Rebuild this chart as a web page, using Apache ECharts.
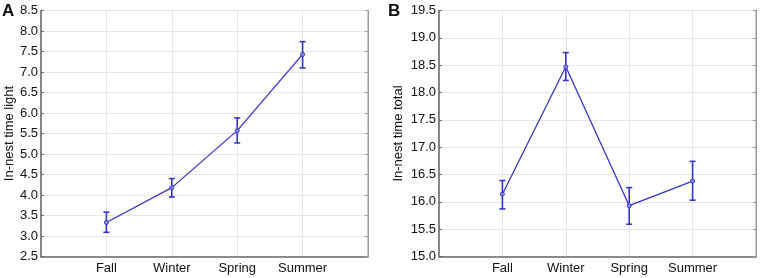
<!DOCTYPE html>
<html><head><meta charset="utf-8">
<script src="https://cdn.jsdelivr.net/npm/echarts@6/dist/echarts.min.js"></script>
<style>html,body{margin:0;padding:0;background:#fff}#c{width:765px;height:278px}</style>
</head><body><div id="c"></div>
<script>
var seasons = ['Fall', 'Winter', 'Spring', 'Summer'];
var lightMean = [3.33, 4.18, 5.57, 7.43];
var lightLow = [3.09, 3.95, 5.27, 7.10];
var lightHigh = [3.58, 4.40, 5.88, 7.74];
var totalMean = [16.14, 18.47, 15.93, 16.38];
var totalLow = [15.87, 18.22, 15.59, 16.03];
var totalHigh = [16.39, 18.73, 16.26, 16.74];
var lightTicks = {min: 2.5, max: 8.5, interval: 0.5};
var totalTicks = {min: 15.0, max: 19.5, interval: 0.5};

var cats = [''].concat(seasons).concat(['']);
var font = 'Liberation Sans, Arial, sans-serif';
var blue = '#3535c8';

function xAxis(gi) {
  return {
    type: 'category', gridIndex: gi, data: cats, boundaryGap: false,
    axisLine: {show: true, lineStyle: {color: '#6a6a6a', width: 1.5}},
    axisTick: {show: false},
    axisLabel: {color: '#111', fontSize: 13, fontFamily: font, margin: 5, interval: 0},
    splitLine: {show: true, lineStyle: {color: '#e6e6e6', width: 1}}
  };
}
function yAxis(gi, t, name, gap) {
  return {
    type: 'value', gridIndex: gi, min: t.min, max: t.max, interval: t.interval,
    name: name, nameLocation: 'middle', nameGap: gap, nameMoveOverlap: false,
    nameTextStyle: {color: '#111', fontSize: 13, fontFamily: font},
    axisLine: {show: true, lineStyle: {color: '#6a6a6a', width: 1.5}},
    axisTick: {show: true, inside: true, length: 3, lineStyle: {color: '#6a6a6a'}},
    axisLabel: {color: '#111', fontSize: 13, fontFamily: font, margin: 3,
      formatter: function (v) { return v.toFixed(1); }},
    splitLine: {show: true, lineStyle: {color: '#e6e6e6', width: 1}}
  };
}
function yRight(gi, t) {
  return {
    type: 'value', gridIndex: gi, position: 'right', min: t.min, max: t.max, interval: t.interval,
    axisLine: {show: true, lineStyle: {color: '#999', width: 1}},
    axisTick: {show: true, inside: true, length: 3, lineStyle: {color: '#999'}},
    axisLabel: {show: false}, splitLine: {show: false}
  };
}
function pad(arr) { return [null].concat(arr).concat([null]); }
function errData(low, high) {
  return low.map(function (l, i) { return [i + 1, l, high[i]]; });
}
function errSeries(xi, yi, low, high) {
  return {
    type: 'custom', xAxisIndex: xi, yAxisIndex: yi, silent: true, z: 3,
    data: errData(low, high),
    renderItem: function (params, api) {
      var lo = api.coord([api.value(0), api.value(1)]);
      var hi = api.coord([api.value(0), api.value(2)]);
      var hw = 3;
      var st = {stroke: blue, lineWidth: 1.6};
      return {type: 'group', children: [
        {type: 'line', shape: {x1: lo[0], y1: lo[1], x2: hi[0], y2: hi[1]}, style: st},
        {type: 'line', shape: {x1: lo[0] - hw, y1: lo[1], x2: lo[0] + hw, y2: lo[1]}, style: st},
        {type: 'line', shape: {x1: hi[0] - hw, y1: hi[1], x2: hi[0] + hw, y2: hi[1]}, style: st}
      ]};
    }
  };
}
function lineSeries(xi, yi, mean) {
  return {
    type: 'line', xAxisIndex: xi, yAxisIndex: yi, data: pad(mean), connectNulls: false,
    symbol: 'circle', symbolSize: 4, z: 4,
    lineStyle: {color: blue, width: 1.3},
    itemStyle: {color: '#8f8fe0', borderColor: blue, borderWidth: 1}
  };
}

var chart = echarts.init(document.getElementById('c'), null, {renderer: 'canvas'});
chart.setOption({
  animation: false,
  backgroundColor: '#fff',
  title: [
    {text: 'A', left: 2, top: 3, padding: 0, textStyle: {fontSize: 17, fontWeight: 'bold', color: '#111', fontFamily: font}},
    {text: 'B', left: 388, top: 3, padding: 0, textStyle: {fontSize: 17, fontWeight: 'bold', color: '#111', fontFamily: font}}
  ],
  grid: [
    {left: 41, right: 397, top: 10.5, bottom: 21.5, show: true, borderColor: '#999', borderWidth: 1},
    {left: 439, right: 9, top: 10.5, bottom: 21.5, show: true, borderColor: '#999', borderWidth: 1}
  ],
  xAxis: [xAxis(0), xAxis(1)],
  yAxis: [yAxis(0, lightTicks, 'In-nest time light', 25), yAxis(1, totalTicks, 'In-nest time total', 34),
          yRight(0, lightTicks), yRight(1, totalTicks)],
  series: [
    lineSeries(0, 0, lightMean), errSeries(0, 0, lightLow, lightHigh),
    lineSeries(1, 1, totalMean), errSeries(1, 1, totalLow, totalHigh)
  ]
});
</script></body></html>
